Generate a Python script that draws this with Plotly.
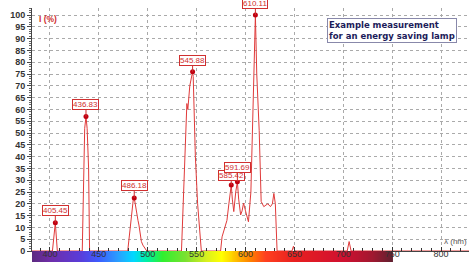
import numpy as np
import plotly.graph_objects as go

# Spectrum (wavelength nm, relative intensity %)
wavelength = [380, 402.5, 405.45, 407.5, 433, 434.5, 435.5, 436.83, 438, 439.5, 440.5,
              479.5, 482, 484, 485.5, 486.18, 488.4, 490, 491, 492.5, 493.5, 495, 497, 499,
              534.5, 536, 538, 540, 541, 543, 545.88, 546.5, 548.7, 551, 554.8,
              574.5, 576, 578.6, 581, 583, 585.42, 586.5, 588, 590, 591.69, 593, 595, 596.5,
              598, 600, 603, 605.5, 607, 608.2, 610.11, 611.5, 614, 616, 618.7, 621, 622.8,
              625.5, 627.5, 629, 630.5, 632.3, 647.5, 649, 650.5, 704, 706, 708, 830]
intensity = [0, 0, 12, 0, 0, 40, 52, 57, 52, 35, 0,
             0, 10, 19, 23, 22.5, 16, 13, 11, 6, 4, 2.5, 1.3, 0,
             0, 15, 40, 62.5, 60, 70, 76, 74, 40, 20, 0,
             0, 6, 10.2, 13, 20, 28, 22, 16.7, 25, 29.4, 22, 15.3, 17,
             20.3, 17, 12.4, 25, 51, 75, 100, 75, 51, 21, 18.8, 19.5, 20,
             18.8, 20, 24.4, 20, 0, 0, 2, 0, 0, 4, 0, 0]

# Labelled peaks
peak_wl = [405.45, 436.83, 486.18, 545.88, 585.42, 591.69, 610.11]
peak_val = [12, 57, 22.5, 76, 28, 29.4, 100]
peak_labels = ["405.45", "436.83", "486.18", "545.88", "585.42", "591.69", "610.11"]
peak_offsets = [-12, -12, -12, -11, -9, -14, -12]

# Visible spectrum colour bar
bar_wl = [380, 400, 430, 450, 470, 485, 500, 515, 540, 560, 575, 590, 605, 620, 650, 700, 730, 750]
bar_colors = ["#5b2a7e", "#6f2da8", "#5a3cd8", "#3d5cff", "#2aa0ff", "#00d8ff", "#00f0a0",
              "#30f030", "#80e030", "#d8f020", "#ffff00", "#ffc000", "#ff8000", "#ff4020",
              "#e82020", "#d01030", "#a01830", "#602030"]

x_ticks = [400, 450, 500, 550, 600, 650, 700, 750, 800]
y_ticks = list(range(0, 101, 5))
x_range = [381.6, 828.6]

fig = go.Figure()

bar_x = np.arange(bar_wl[0], bar_wl[-1] + 1, 1.0)
cscale = [[(w - bar_wl[0]) / (bar_wl[-1] - bar_wl[0]), c] for w, c in zip(bar_wl, bar_colors)]
fig.add_trace(go.Heatmap(x=bar_x, y=[0.5], z=[bar_x], zmin=bar_wl[0], zmax=bar_wl[-1],
                         colorscale=cscale, showscale=False, hoverinfo="skip",
                         xaxis="x2", yaxis="y2"))

fig.add_trace(go.Scatter(x=wavelength, y=intensity, mode="lines",
                         line=dict(color="#e03a3a", width=1), hoverinfo="skip",
                         cliponaxis=True))
fig.add_trace(go.Scatter(x=peak_wl, y=peak_val, mode="markers",
                         marker=dict(color="#c00010", size=5), hoverinfo="skip"))

for w, v, lab, off in zip(peak_wl, peak_val, peak_labels, peak_offsets):
    fig.add_annotation(x=w, y=v, xref="x", yref="y", text=lab, showarrow=True,
                       ax=0, ay=off, arrowhead=0, arrowwidth=1, arrowcolor="#d03030",
                       font=dict(family="Liberation Sans", size=8, color="#d03030"),
                       bgcolor="white", bordercolor="#d03030", borderwidth=1, borderpad=0)

fig.add_annotation(xref="paper", yref="paper", x=0.012, y=0.955, text="I (%)",
                   showarrow=False, xanchor="left", yanchor="middle",
                   font=dict(family="Liberation Sans", size=8.5, color="#d03030", weight="bold"))
fig.add_annotation(xref="paper", yref="paper", x=1.0, y=0.079, text="λ (nm)",
                   showarrow=False, xanchor="right", yanchor="middle",
                   font=dict(family="Liberation Sans", size=8, color="#555555"))
fig.add_annotation(xref="paper", yref="paper", x=0.675, y=0.961,
                   text="Example measurement<br>for an energy saving lamp",
                   showarrow=False, xanchor="left", yanchor="top", align="left",
                   font=dict(family="DejaVu Sans", size=8.5, color="#1c1c5a", weight="bold"),
                   bgcolor="white", bordercolor="#8888aa", borderwidth=1, borderpad=1)

fig.update_layout(
    width=469, height=262,
    margin=dict(l=32, r=0, t=8, b=0, autoexpand=False),
    paper_bgcolor="white", plot_bgcolor="white",
    showlegend=False,
    xaxis=dict(range=x_range, tickvals=x_ticks, ticks="inside", ticklen=4,
               tickcolor="#333333", showline=True, linecolor="#444444", linewidth=1,
               showgrid=True, gridcolor="#aaaaaa", griddash="dot", gridwidth=1,
               zeroline=False, anchor="y", showticklabels=False, automargin=False,
               minor=dict(dtick=10, ticks="inside", ticklen=3, tickcolor="#333333",
                          showgrid=False)),
    xaxis2=dict(range=x_range, matches="x", anchor="y2", tickvals=x_ticks, ticks="",
                showline=False, showgrid=False, zeroline=False, automargin=False,
                ticklabelposition="inside",
                tickfont=dict(family="Liberation Sans", size=9, color="#333333")),
    yaxis=dict(domain=[11 / 254, 1], range=[0, 103], tickvals=y_ticks, ticks="outside",
               ticklen=4, tickcolor="#444444", showline=True, linecolor="#444444",
               showgrid=True, gridcolor="#aaaaaa", griddash="dot", gridwidth=1,
               zeroline=False, automargin=False,
               tickfont=dict(family="Liberation Sans", size=9, color="#333333", weight="bold"),
               minor=dict(dtick=1, ticks="outside", ticklen=2, tickcolor="#666666",
                          showgrid=False)),
    yaxis2=dict(domain=[0, 11 / 254], range=[0, 1], visible=False, anchor="x2",
                fixedrange=True),
)

fig.write_html("out.html", config={"displayModeBar": False},
               post_script="document.body.style.margin='0';")
